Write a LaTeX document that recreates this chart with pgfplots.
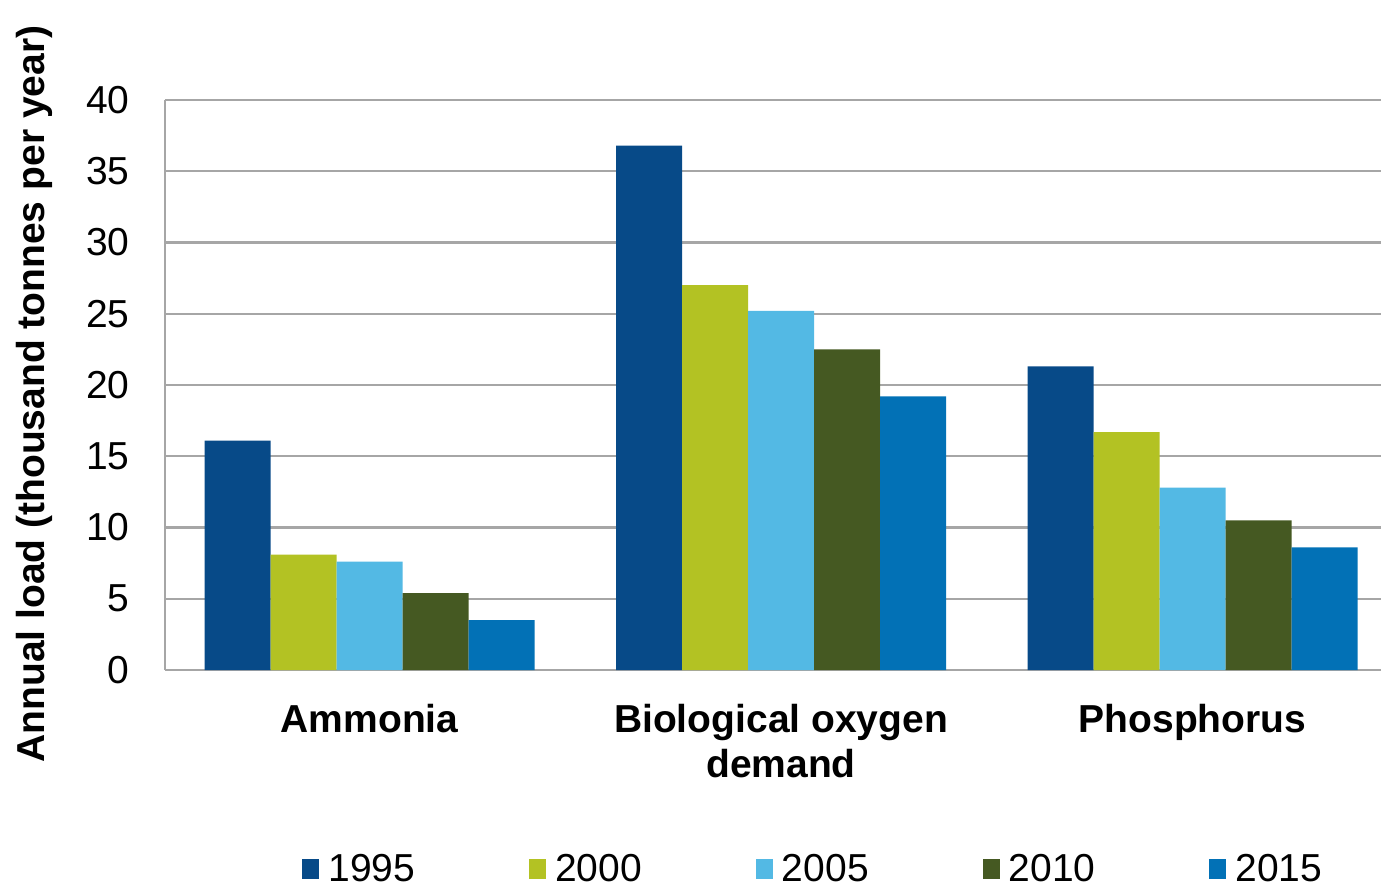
\documentclass[border=0pt]{standalone}
\usepackage{fontspec}
\setmainfont{Liberation Sans}
\usepackage{pgfplots}
\pgfplotsset{compat=1.18}
\definecolor{c1}{HTML}{074A88}
\definecolor{c2}{HTML}{B3C223}
\definecolor{c3}{HTML}{53B9E4}
\definecolor{c4}{HTML}{455922}
\definecolor{c5}{HTML}{0271B6}
\definecolor{gridc}{HTML}{A6A6A6}
\begin{document}
\begin{tikzpicture}
\path[use as bounding box] (-82.5pt,-109pt) rectangle (608pt,335pt);
\begin{axis}[
  at={(0pt,0pt)}, anchor=south west,
  scale only axis, width=608pt, height=285pt,
  ybar=0pt, bar width=33pt,
  xmin=-0.497, xmax=2.458, ymin=0, ymax=40,
  ytick={0,5,...,40},
  xtick={0,1,2},
  xticklabels={Ammonia,{Biological oxygen\\demand},Phosphorus},
  axis x line*=bottom, axis y line*=left,
  axis line style={-, draw=gridc, line width=1.1pt},
  ymajorgrids, grid style={draw=gridc, line width=1.1pt},
  major tick length=0pt, tick style={draw=none},
  /pgf/number format/assume math mode=true,
  yticklabel style={font=\fontsize{19.5}{23}\selectfont, inner sep=0pt, anchor=east, xshift=-17.5pt},
  xticklabel style={font=\bfseries\fontsize{19.5}{22.5}\selectfont, align=center, inner sep=0pt, anchor=north, yshift=-17pt},
  ylabel={Annual load (thousand tonnes per year)},
  ylabel style={font=\bfseries\fontsize{19.5}{23}\selectfont, at={(axis description cs:-0.107,0.484)}, anchor=center, rotate=0},
  legend columns=5,
  legend style={at={(axis description cs:0.534,-0.349)}, anchor=center, draw=none, fill=none,
    font=\fontsize{19.5}{23}\selectfont,
    /tikz/every odd column/.append style={column sep=2.5pt},
    /tikz/every even column/.append style={column sep=55pt}},
  legend image code/.code={\fill[#1] (0pt,-4.8pt) rectangle (8.5pt,4.8pt);},
]
\addplot[fill=c1, draw=none] coordinates {(0,16.1) (1,36.8) (2,21.3)};
\addplot[fill=c2, draw=none] coordinates {(0,8.1) (1,27.0) (2,16.7)};
\addplot[fill=c3, draw=none] coordinates {(0,7.6) (1,25.2) (2,12.8)};
\addplot[fill=c4, draw=none] coordinates {(0,5.4) (1,22.5) (2,10.5)};
\addplot[fill=c5, draw=none] coordinates {(0,3.5) (1,19.2) (2,8.6)};
\legend{1995,2000,2005,2010,2015}
\end{axis}
\end{tikzpicture}
\end{document}
